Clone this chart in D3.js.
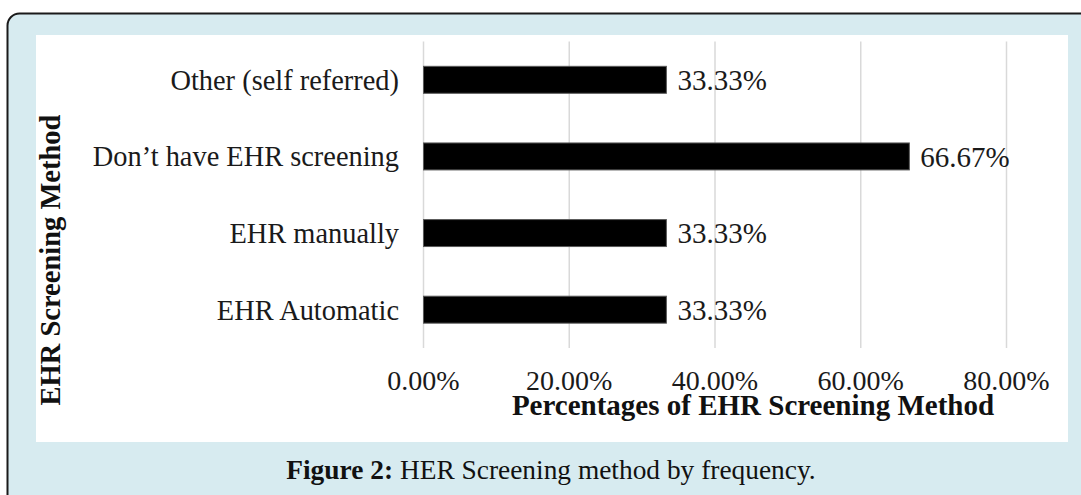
<!DOCTYPE html>
<html>
<head>
<meta charset="utf-8">
<script src="https://cdn.jsdelivr.net/npm/d3@7"></script>
<style>
    html, body { margin: 0; padding: 0; background: #ffffff; }
    svg { display: block; font-family: 'Liberation Serif', 'DejaVu Serif', serif; }
    .grid-line { stroke: #d9d9d9; stroke-width: 1.5; }
    .bar { fill: #000000; stroke: #595959; stroke-width: 1; }
    .cat-label { font-size: 28.4px; fill: #1a1a1a; }
    .value-label { font-size: 29px; fill: #1a1a1a; }
    .tick-label { font-size: 28px; fill: #1a1a1a; }
    .axis-title { font-weight: bold; fill: #111111; }
    .caption { font-size: 27.4px; fill: #111111; }
</style>
</head>
<body>
<div id="chart"></div>
<script>
const categories = ['Other (self referred)', 'Don\u2019t have EHR screening', 'EHR manually', 'EHR Automatic'];
const percentages = [33.33, 66.67, 33.33, 33.33];
const tickValues = [0, 20, 40, 60, 80];

const width = 1081;
const height = 495;

let svg = d3.select('#chart')
    .append('svg')
    .attr('width', width)
    .attr('height', height);

// blue figure panel with rounded corner, runs off the right and bottom edge
svg.append('rect')
    .attr('x', 7.5)
    .attr('y', 13.5)
    .attr('width', 1100)
    .attr('height', 510)
    .attr('rx', 12)
    .attr('fill', '#d7ebf0')
    .attr('stroke', '#1a1a1a')
    .attr('stroke-width', 2);

// white chart area
svg.append('rect')
    .attr('x', 36)
    .attr('y', 35)
    .attr('width', 1032)
    .attr('height', 407)
    .attr('fill', '#ffffff');

let x = d3.scaleLinear().domain([0, 80]).range([423.5, 1006.5]);
let y = d3.scaleBand()
    .domain(categories)
    .range([41.5, 348])
    .paddingInner(0.648)
    .paddingOuter(0.324);

// vertical gridlines
svg.selectAll('.grid-line')
    .data(tickValues)
    .enter().append('line')
    .attr('class', 'grid-line')
    .attr('x1', d => x(d))
    .attr('x2', d => x(d))
    .attr('y1', 41.5)
    .attr('y2', 348);

// bars
svg.selectAll('.bar')
    .data(percentages)
    .enter().append('rect')
    .attr('class', 'bar')
    .attr('x', x(0))
    .attr('y', (d, i) => y(categories[i]))
    .attr('width', d => x(d) - x(0))
    .attr('height', y.bandwidth());

// value labels
svg.selectAll('.value-label')
    .data(percentages)
    .enter().append('text')
    .attr('class', 'value-label')
    .attr('x', d => x(d) + 11)
    .attr('y', (d, i) => y(categories[i]) + y.bandwidth() / 2)
    .attr('dy', '.35em')
    .text(d => d.toFixed(2) + '%');

// category labels
svg.selectAll('.cat-label')
    .data(categories)
    .enter().append('text')
    .attr('class', 'cat-label')
    .attr('x', 399)
    .attr('y', d => y(d) + y.bandwidth() / 2)
    .attr('dy', '.35em')
    .attr('text-anchor', 'end')
    .text(d => d);

// x tick labels
svg.selectAll('.tick-label')
    .data(tickValues)
    .enter().append('text')
    .attr('class', 'tick-label')
    .attr('x', d => x(d))
    .attr('y', 390)
    .attr('text-anchor', 'middle')
    .text(d => d3.format('.2f')(d) + '%');

// axis titles
svg.append('text')
    .attr('class', 'axis-title')
    .attr('x', 753)
    .attr('y', 414.5)
    .attr('font-size', '29px')
    .attr('text-anchor', 'middle')
    .text('Percentages of EHR Screening Method');

svg.append('text')
    .attr('class', 'axis-title')
    .attr('font-size', '28.5px')
    .attr('transform', 'translate(60,260)rotate(-90)')
    .attr('text-anchor', 'middle')
    .text('EHR Screening Method');

// figure caption
let caption = svg.append('text')
    .attr('class', 'caption')
    .attr('x', 551)
    .attr('y', 479)
    .attr('text-anchor', 'middle');
caption.append('tspan').attr('font-weight', 'bold').text('Figure 2:');
caption.append('tspan').text(' HER Screening method by frequency.');
</script>
</body>
</html>
